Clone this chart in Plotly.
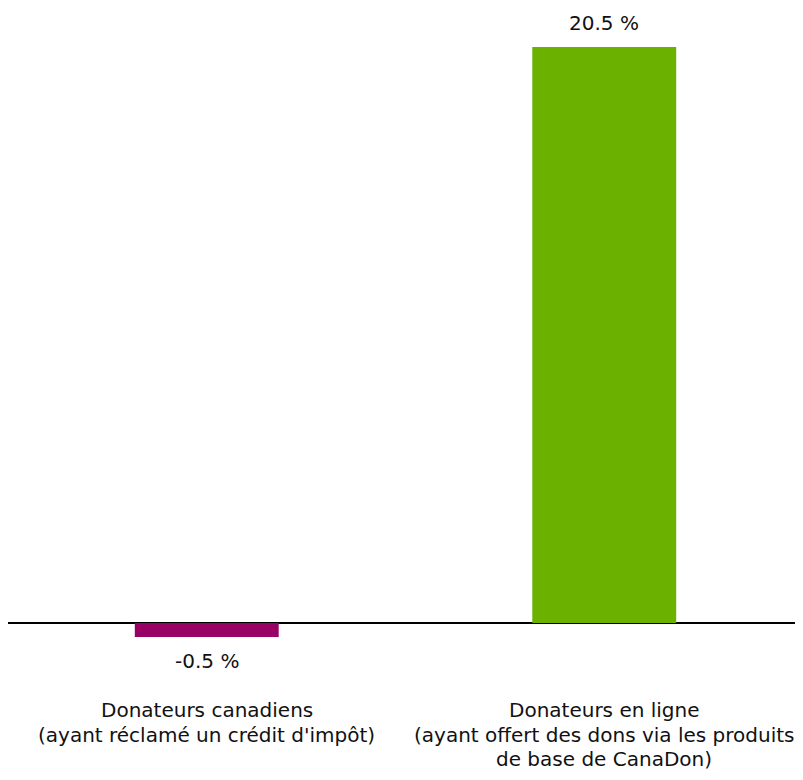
import plotly.graph_objects as go

categories = ["Donateurs canadiens", "Donateurs en ligne"]
category_lines = [
    ["Donateurs canadiens", "(ayant réclamé un crédit d'impôt)"],
    ["Donateurs en ligne", "(ayant offert des dons via les produits", "de base de CanaDon)"],
]
values = [-0.5, 20.5]
value_labels = ["-0.5 %", "20.5 %"]
colors = ["#990066", "#6AB100"]

FONT = "DejaVu Sans, Liberation Sans, Arial, sans-serif"

fig = go.Figure(
    go.Bar(
        x=categories,
        y=values,
        marker=dict(color=colors, line=dict(width=0)),
        width=0.362,
        hoverinfo="skip",
    )
)

annotations = []
for cat, val, lab in zip(categories, values, value_labels):
    annotations.append(dict(
        x=cat, y=val, xref="x", yref="y", text=lab, showarrow=False,
        yanchor="middle", yshift=24 if val >= 0 else -24,
        font=dict(family=FONT, size=20, color="#111111"),
    ))
for cat, lines in zip(categories, category_lines):
    for i, line in enumerate(lines):
        annotations.append(dict(
            x=cat, y=0, xref="x", yref="y", text=line, showarrow=False,
            yanchor="middle", yshift=-87 - 24.5 * i,
            font=dict(family=FONT, size=20, color="#111111"),
        ))

fig.update_layout(
    width=795, height=764,
    margin=dict(l=0, r=0, t=32, b=82),
    paper_bgcolor="white", plot_bgcolor="white",
    showlegend=False,
    annotations=annotations,
    xaxis=dict(showticklabels=False, showgrid=False, zeroline=False,
               showline=False, ticks="", range=[-0.5, 1.5]),
    yaxis=dict(range=[-2.384, 20.747], showticklabels=False, showgrid=False,
               zeroline=True, zerolinecolor="black", zerolinewidth=2,
               showline=False, ticks=""),
)

fig.write_html("out.html", default_width="795px", default_height="764px")
